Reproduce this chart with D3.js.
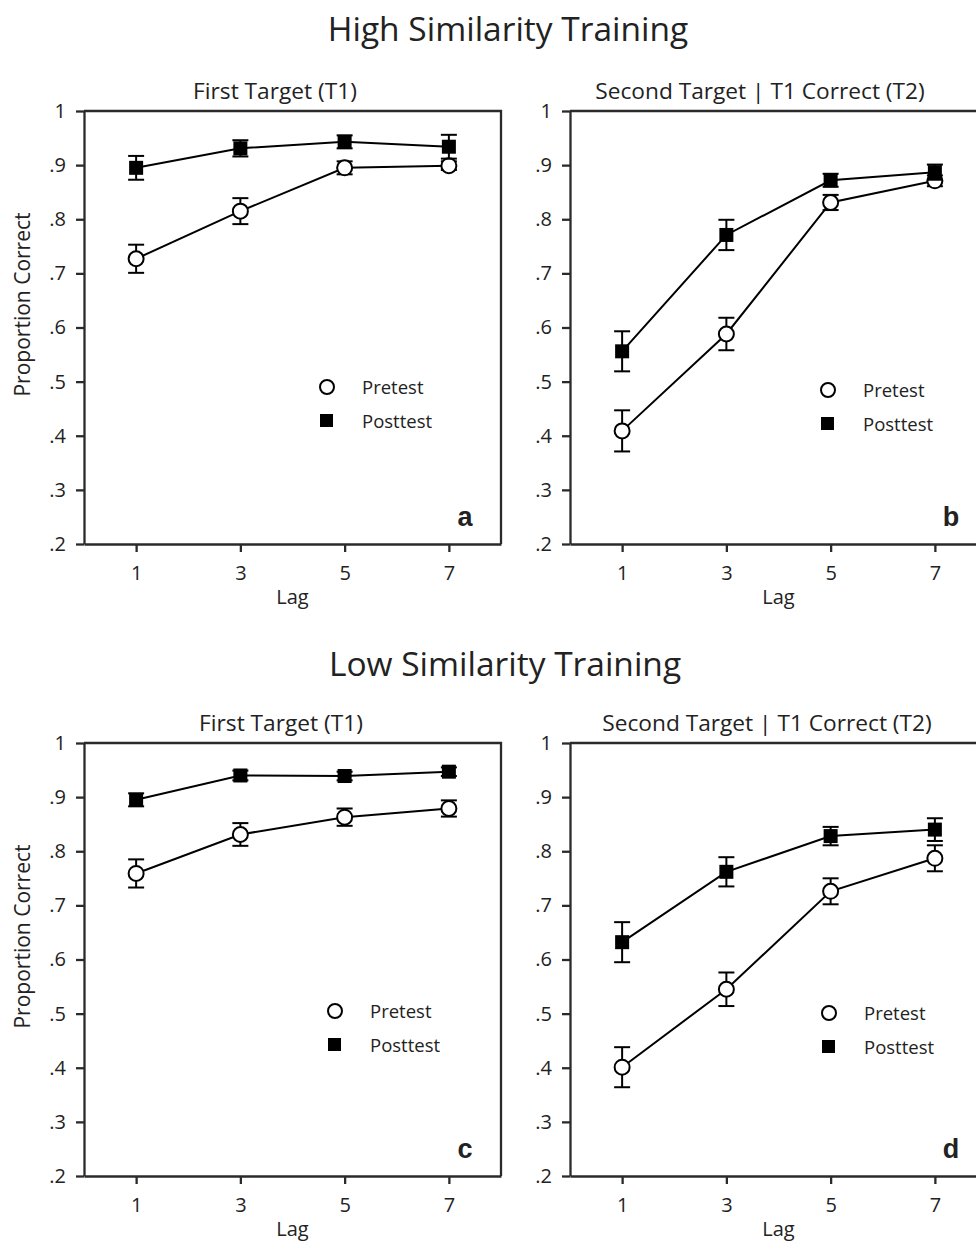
<!DOCTYPE html>
<html>
<head>
<meta charset="utf-8">
<script src="https://cdn.jsdelivr.net/npm/d3@7"></script>
<style>
  body { margin: 0; background: #fff; }
  text { font-family: "Open Sans", sans-serif; fill: #222; }
</style>
</head>
<body>
<div id="container"></div>
<script>
// lags and axis ticks
const lags = [1, 3, 5, 7];
const yTicks = [0.2, 0.3, 0.4, 0.5, 0.6, 0.7, 0.8, 0.9, 1];
const seriesNames = ["Pretest", "Posttest"];

// high similarity training, T1
const hiT1Pre = [0.727, 0.815, 0.895, 0.899];
const hiT1PreErr = [0.026, 0.024, 0.012, 0.008];
const hiT1Post = [0.895, 0.931, 0.943, 0.934];
const hiT1PostErr = [0.022, 0.015, 0.012, 0.022];

// high similarity training, T2|T1
const hiT2Pre = [0.409, 0.588, 0.831, 0.871];
const hiT2PreErr = [0.038, 0.030, 0.014, 0.010];
const hiT2Post = [0.556, 0.771, 0.872, 0.887];
const hiT2PostErr = [0.037, 0.028, 0.012, 0.014];

// low similarity training, T1
const loT1Pre = [0.759, 0.831, 0.863, 0.879];
const loT1PreErr = [0.026, 0.021, 0.016, 0.015];
const loT1Post = [0.895, 0.940, 0.939, 0.947];
const loT1PostErr = [0.012, 0.009, 0.008, 0.008];

// low similarity training, T2|T1
const loT2Pre = [0.401, 0.545, 0.726, 0.787];
const loT2PreErr = [0.037, 0.031, 0.024, 0.024];
const loT2Post = [0.632, 0.762, 0.828, 0.840];
const loT2PostErr = [0.037, 0.027, 0.017, 0.021];

const width = 976, height = 1247;
const plotW = 417, plotH = 433;

const svg = d3.select("#container").append("svg")
    .attr("width", width)
    .attr("height", height);

const rowTitles = [
    { text: "High Similarity Training", x: 508, y: 41 },
    { text: "Low Similarity Training", x: 505, y: 676 }
];

svg.selectAll(".row-title")
    .data(rowTitles)
    .join("text")
    .attr("class", "row-title")
    .attr("x", d => d.x)
    .attr("y", d => d.y)
    .attr("text-anchor", "middle")
    .style("font-size", "33.5px")
    .text(d => d.text);

const panels = [
    { left: 84, top: 111, title: "First Target (T1)", titleDx: 191, letter: "a", yLabel: true,
      pre: hiT1Pre, preErr: hiT1PreErr, post: hiT1Post, postErr: hiT1PostErr, legend: [243, 276] },
    { left: 570, top: 111, title: "Second Target | T1 Correct (T2)", titleDx: 190, letter: "b", yLabel: false,
      pre: hiT2Pre, preErr: hiT2PreErr, post: hiT2Post, postErr: hiT2PostErr, legend: [258, 279] },
    { left: 84, top: 743, title: "First Target (T1)", titleDx: 197, letter: "c", yLabel: true,
      pre: loT1Pre, preErr: loT1PreErr, post: loT1Post, postErr: loT1PostErr, legend: [251, 268] },
    { left: 570, top: 743, title: "Second Target | T1 Correct (T2)", titleDx: 197, letter: "d", yLabel: false,
      pre: loT2Pre, preErr: loT2PreErr, post: loT2Post, postErr: loT2PostErr, legend: [259, 270] }
];

const x = d3.scaleLinear().domain([0, 8]).range([0, plotW]);
const y = d3.scaleLinear().domain([0.2, 1]).range([plotH, 0]);

const fmt = d => d === 1 ? "1" : d3.format(".1f")(d).replace(/^0/, "");

panels.forEach(p => {
    const g = svg.append("g").attr("transform", `translate(${p.left},${p.top})`);

    // box top + right
    g.append("path")
        .attr("d", `M0,0H${plotW}V${plotH}`)
        .attr("fill", "none")
        .attr("stroke", "#2a2a2a")
        .attr("stroke-width", 2.3);

    const yAxis = g.append("g")
        .call(d3.axisLeft(y).tickValues(yTicks).tickSize(8).tickSizeOuter(0).tickPadding(10).tickFormat(fmt));
    const xAxis = g.append("g")
        .attr("transform", `translate(0,${plotH})`)
        .call(d3.axisBottom(x).tickValues(lags).tickSize(8).tickSizeOuter(0).tickPadding(14));

    [yAxis, xAxis].forEach(a => {
        a.selectAll("path, line").attr("stroke", "#2a2a2a").attr("stroke-width", 2.3);
        a.selectAll("text")
            .style("font-size", "20px")
            .style("font-family", "'Open Sans', sans-serif")
            .attr("fill", "#222");
    });

    g.append("text")
        .attr("x", p.titleDx)
        .attr("y", -12)
        .attr("text-anchor", "middle")
        .style("font-size", "22.7px")
        .text(p.title);

    g.append("text")
        .attr("x", plotW / 2)
        .attr("y", plotH + 60)
        .attr("text-anchor", "middle")
        .style("font-size", "20px")
        .text("Lag");

    if (p.yLabel) {
        g.append("text")
            .attr("transform", `translate(${-54},${plotH / 2 - 23}) rotate(-90)`)
            .attr("text-anchor", "middle")
            .style("font-size", "21px")
            .text("Proportion Correct");
    }

    g.append("text")
        .attr("x", 381)
        .attr("y", plotH - 18)
        .attr("text-anchor", "middle")
        .attr("font-weight", "bold")
        .style("font-family", "'Liberation Sans', Arial, sans-serif")
        .style("font-size", "27px")
        .attr("fill", "#000")
        .text(p.letter);

    const line = d3.line().x((d, i) => x(lags[i])).y(d => y(d));

    const series = [
        { vals: p.pre, err: p.preErr, kind: "circle" },
        { vals: p.post, err: p.postErr, kind: "square" }
    ];

    series.forEach(s => {
        g.append("path")
            .datum(s.vals)
            .attr("d", line)
            .attr("fill", "none")
            .attr("stroke", "#000")
            .attr("stroke-width", 2);
    });

    series.forEach(s => {
        const pts = s.vals.map((v, i) => ({ lag: lags[i], v: v, e: s.err[i] }));
        const eb = g.append("g").selectAll("g").data(pts).join("g");
        eb.append("line")
            .attr("x1", d => x(d.lag)).attr("x2", d => x(d.lag))
            .attr("y1", d => y(d.v - d.e)).attr("y2", d => y(d.v + d.e))
            .attr("stroke", "#000").attr("stroke-width", 2);
        [-1, 1].forEach(sg => {
            eb.append("line")
                .attr("x1", d => x(d.lag) - 8).attr("x2", d => x(d.lag) + 8)
                .attr("y1", d => y(d.v + sg * d.e)).attr("y2", d => y(d.v + sg * d.e))
                .attr("stroke", "#000").attr("stroke-width", 2);
        });

        if (s.kind === "circle") {
            g.append("g").selectAll("circle").data(pts).join("circle")
                .attr("cx", d => x(d.lag)).attr("cy", d => y(d.v))
                .attr("r", 7.5)
                .attr("fill", "#fff").attr("stroke", "#000").attr("stroke-width", 2);
        } else {
            g.append("g").selectAll("rect").data(pts).join("rect")
                .attr("x", d => x(d.lag) - 7).attr("y", d => y(d.v) - 7)
                .attr("width", 14).attr("height", 14)
                .attr("fill", "#000");
        }
    });

    // legend
    const lg = g.append("g").attr("transform", `translate(${p.legend[0]},${p.legend[1]})`);
    lg.append("circle").attr("r", 7).attr("fill", "#fff").attr("stroke", "#000").attr("stroke-width", 2);
    lg.append("rect").attr("x", -7).attr("y", 34 - 7).attr("width", 13).attr("height", 13).attr("fill", "#000");
    lg.selectAll("text").data(seriesNames).join("text")
        .attr("x", 35)
        .attr("y", (d, i) => i * 34 + 7)
        .style("font-size", "18.5px")
        .text(d => d);
});
</script>
</body>
</html>
